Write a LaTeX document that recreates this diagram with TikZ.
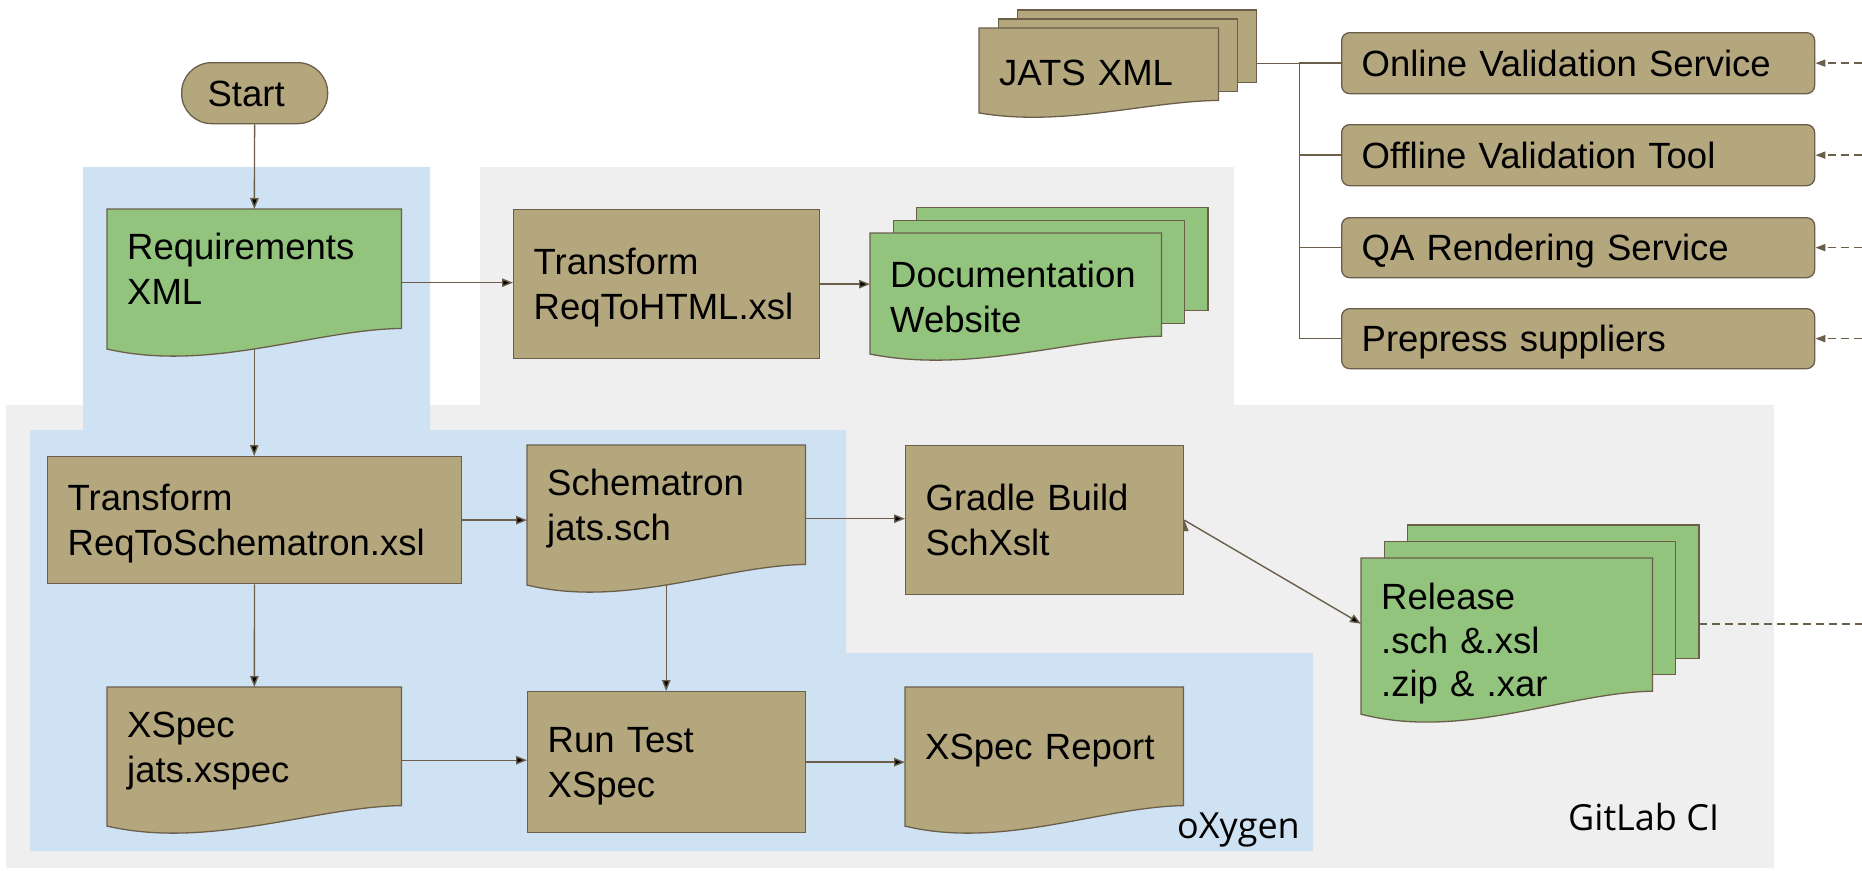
\documentclass[tikz,border=0pt]{standalone}
\usepackage{fontspec}
\setmainfont{Liberation Sans}
\newfontfamily\tagfont{Open Sans}
\usetikzlibrary{arrows.meta,calc}
\hyphenpenalty=10000
\exhyphenpenalty=10000
\definecolor{boxtan}{RGB}{180,167,125}
\definecolor{edgec}{RGB}{107,95,75}
\definecolor{leaf}{RGB}{147,196,125}
\definecolor{skyarea}{RGB}{207,226,243}
\definecolor{greyarea}{RGB}{239,239,239}
\pgfdeclarelayer{regions}
\pgfdeclarelayer{links}
\pgfdeclarelayer{shapes}
\pgfsetlayers{regions,links,shapes,main}
\newcommand{\linestrut}{\vrule width 0pt height 35pt depth 9pt}
\newcommand{\docstrut}{\vrule width 0pt height 35pt depth 36pt}
\newcommand{\docshape}[2]{%
  \path[draw=edgec, fill=#2, line width=1.3pt] let \p1=(#1.south west), \p2=(#1.north east),
    \n1={\x2-\x1}, \n2={\y2-\y1} in
    (\x1,\y2) -- (\x2,\y2) -- (\x2,{\y2-0.81*\n2})
    .. controls ({\x1+0.7*\n1},{\y2-0.82*\n2}) and ({\x1+0.35*\n1},{\y2-1.11*\n2}) ..
    (\x1,{\y2-0.95*\n2}) -- cycle;}
\newcommand{\stackshape}[2]{%
  \foreach \k in {2,1}
    \path[draw=edgec, fill=#2, line width=1.3pt] let \p1=(#1.south west), \p2=(#1.north east),
      \n1={\x2-\x1}, \n2={\y2-\y1} in
      ({\x1+\k*0.08*\n1},{\y2+\k*0.1*\n2}) rectangle ({\x2+\k*0.08*\n1},{\y2+(\k*0.1-0.81)*\n2});
  \docshape{#1}{#2}}
\begin{document}
\begin{tikzpicture}[x=1pt,y=-1pt,
  dims/.style 2 args={minimum width=#1, minimum height=#2, text width=#1-40}]
\tikzstyle{base}=[anchor=north west, inner xsep=20pt, inner ysep=0pt, align=left, font=\fontsize{36.5}{43.5}\selectfont]
\tikzstyle{box}=[base, rectangle, draw=edgec, fill=boxtan, line width=1.3pt, execute at begin node=\linestrut, execute at end node=\linestrut]
\tikzstyle{tool}=[box, rounded corners=8pt]
\tikzstyle{terminal}=[box, rounded corners=30pt, inner xsep=26pt]
\tikzstyle{doc}=[base, execute at begin node=\linestrut, execute at end node=\docstrut]
\tikzstyle{stack}=[base, execute at begin node=\linestrut, execute at end node=\linestrut]
\tikzstyle{areatag}=[inner sep=0pt, font=\tagfont\fontsize{36}{40}\selectfont]
\tikzstyle{link}=[draw=edgec, line width=1.4pt, -{Triangle[length=11pt,width=8.5pt]}]
\tikzstyle{wire}=[draw=edgec, line width=1.4pt]
\tikzstyle{feed}=[draw=edgec, line width=1.6pt, dash pattern=on 8pt off 5pt, -{Triangle[length=10pt,width=7pt]}]
\useasboundingbox (0,0) rectangle (1862,870);

\begin{pgfonlayer}{regions}
\fill[greyarea] (480,167) -- (1234,167) -- (1234,405) -- (1774,405) -- (1774,868) -- (6,868) -- (6,405) -- (480,405) -- cycle;
\fill[skyarea] (83,167) -- (430,167) -- (430,430) -- (846,430) -- (846,653) -- (1313,653) -- (1313,851) -- (30,851) -- (30,430) -- (83,430) -- cycle;
\end{pgfonlayer}

\node[terminal, dims={146}{61}, text width=94] (start) at (181,62) {Start};
\node[doc, dims={294}{147}] (req) at (107,209) {Requirements\\XML};
\node[box, dims={306}{149}] (html) at (513,209) {Transform\\ReqToHTML.xsl};
\node[stack, dims={291}{127}] (site) at (870,233) {Documentation\\Website};
\node[stack, dims={239}{89}] (jats) at (979,28) {JATS XML};
\node[tool, dims={473}{61}] (online) at (1341,32) {Online Validation Service};
\node[tool, dims={473}{61}] (offline) at (1341,124) {Offline Validation Tool};
\node[tool, dims={473}{60}] (qa) at (1341,217) {QA Rendering Service};
\node[tool, dims={473}{60}] (prepress) at (1341,308) {Prepress suppliers};
\node[box, dims={414}{127}] (tosch) at (47,456) {Transform\\ReqToSchematron.xsl};
\node[doc, dims={278}{147}] (sch) at (527,445) {Schematron\\jats.sch};
\node[box, dims={278}{149}] (gradle) at (905,445) {Gradle Build\\SchXslt};
\node[stack, dims={291}{164}] (release) at (1361,558) {Release\\.sch \&.xsl\\.zip \& .xar};
\node[doc, dims={294}{146}] (xspec) at (107,687) {XSpec\\jats.xspec};
\node[box, dims={278}{141}] (runtest) at (527,691) {Run Test\\XSpec};
\node[doc, dims={278}{146}] (report) at (905,687) {XSpec Report};
\node[areatag, anchor=base east] (oxygen) at (1300,838) {oXygen};
\node[areatag, anchor=base west] (gitlab) at (1568,830) {GitLab CI};

\begin{pgfonlayer}{shapes}
\docshape{req}{leaf}
\docshape{sch}{boxtan}
\docshape{xspec}{boxtan}
\docshape{report}{boxtan}
\stackshape{site}{leaf}
\stackshape{jats}{boxtan}
\stackshape{release}{leaf}
\end{pgfonlayer}

\coordinate (rim) at (1862,0);
\coordinate (jatsout) at ($(jats.north east)!0.4!(jats.south east)+(38,0)$);
\coordinate (relout) at ($(release.north east)!0.4!(release.south east)+(47,0)$);

\begin{pgfonlayer}{links}
\path[link]
  (start) edge (req)
  (req.east) edge (req.east -| html.west)
  (html) edge (html -| site.west)
  (req.center) edge (req.center |- tosch.north)
  (tosch) edge (xspec)
  (tosch) edge (tosch -| sch.west)
  (sch.center) edge (sch.center |- runtest.north)
  (sch) edge (sch -| gradle.west)
  (xspec) edge (xspec -| runtest.west)
  (runtest) edge (runtest -| report.west)
  (gradle.east) edge ($(release.north west)!0.4!(release.south west)$)
  ;
\foreach \t in {online,offline,qa,prepress}
  \draw[wire] (jatsout) -- ++(43,0) |- (\t.west);
\foreach \t in {online,offline,qa,prepress}
  \draw[feed] (rim |- \t.east) -- (\t.east);
\draw[feed, -] (relout) -- (relout -| rim);
\end{pgfonlayer}
\end{tikzpicture}
\end{document}
